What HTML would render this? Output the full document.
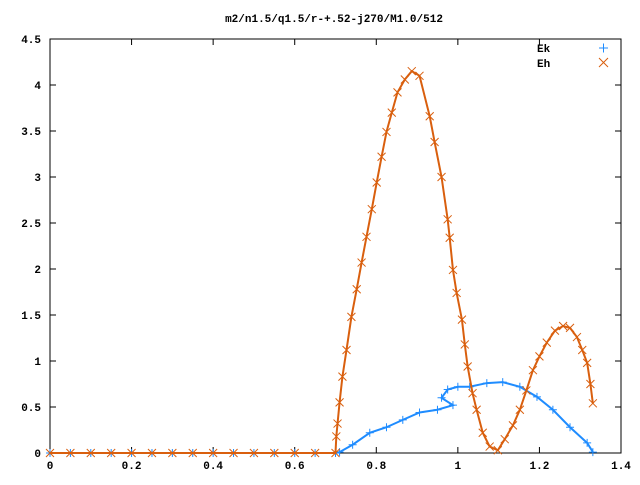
<!DOCTYPE html>
<html><head><meta charset="utf-8"><style>
body{margin:0;background:#fff}
svg text{font-family:"Liberation Mono","DejaVu Sans Mono",monospace;font-size:11px;fill:#000}
</style></head><body>
<svg id="chart" width="640" height="480" xmlns="http://www.w3.org/2000/svg">
<rect width="640" height="480" fill="#fff"/>
<text x="334" y="22" text-anchor="middle" font-weight="bold">m2/n1.5/q1.5/r-+.52-j270/M1.0/512</text>
<g id="axes"></g>
<g id="series"></g>
<g>
<text x="537" y="52" font-weight="bold">Ek</text>
<path d="M599 48h9M603.5 43.5v9" stroke="#1f8cff" stroke-width="1"/>
<text x="537" y="67" font-weight="bold">Eh</text>
<path d="M599 58l9 9M608 58l-9 9" stroke="#d95f0e" stroke-width="1"/>
</g>
</svg>
<script>
const xTicks=[0,0.2,0.4,0.6,0.8,1,1.2,1.4];
const xTickLabels=["0","0.2","0.4","0.6","0.8","1","1.2","1.4"];
const yTicks=[0,0.5,1,1.5,2,2.5,3,3.5,4,4.5];
const yTickLabels=["0","0.5","1","1.5","2","2.5","3","3.5","4","4.5"];
const ehX=[0,0.05,0.1,0.15,0.2,0.25,0.3,0.35,0.4,0.45,0.5,0.55,0.6,0.65,0.7,0.702,0.705,0.71,0.717,0.727,0.739,0.752,0.764,0.776,0.789,0.801,0.813,0.825,0.838,0.852,0.87,0.887,0.906,0.931,0.943,0.96,0.975,0.98,0.988,0.997,1.01,1.017,1.024,1.036,1.046,1.061,1.078,1.098,1.115,1.135,1.152,1.168,1.184,1.2,1.218,1.238,1.258,1.275,1.292,1.305,1.317,1.325,1.331];
const ehY=[0,0,0,0,0,0,0,0,0,0,0,0,0,0,0,0.18,0.32,0.55,0.83,1.12,1.48,1.78,2.07,2.35,2.65,2.94,3.22,3.49,3.7,3.92,4.06,4.15,4.1,3.66,3.38,3.0,2.54,2.34,1.99,1.74,1.45,1.18,0.94,0.65,0.47,0.22,0.07,0.03,0.15,0.3,0.47,0.68,0.9,1.05,1.2,1.33,1.38,1.36,1.26,1.12,0.98,0.75,0.54];
const ekX=[0,0.05,0.1,0.15,0.2,0.25,0.3,0.35,0.4,0.45,0.5,0.55,0.6,0.65,0.7,0.71,0.742,0.784,0.825,0.865,0.906,0.95,0.988,0.96,0.975,1.0,1.029,1.071,1.11,1.152,1.194,1.233,1.275,1.317,1.331];
const ekY=[0,0,0,0,0,0,0,0,0,0,0,0,0,0,0,0.01,0.09,0.22,0.28,0.36,0.44,0.47,0.52,0.6,0.69,0.72,0.72,0.76,0.77,0.72,0.61,0.47,0.28,0.11,0.01];
const L=50,R=621,T=39,B=453;
const sx=v=>L+(v-0)/(1.4-0)*(R-L);
const sy=v=>B-(v-0)/(4.5-0)*(B-T);
const NS="http://www.w3.org/2000/svg";
const axes=document.getElementById('axes'),ser=document.getElementById('series');
function mk(tag,attrs,parent){const e=document.createElementNS(NS,tag);for(const k in attrs)e.setAttribute(k,attrs[k]);parent.appendChild(e);return e;}
const frame=mk('rect',{x:L,y:T,width:R-L,height:B-T,fill:'none',stroke:'#000','stroke-width':1},axes);


xTicks.forEach((v,i)=>{const x=sx(v);
 const t=mk('path',{d:`M${x} ${B}v-6M${x} ${T}v6`,stroke:'#000'},axes);
 
 
 const l=mk('text',{x:x,y:B+16,'text-anchor':'middle','font-weight':'bold'},axes);l.textContent=xTickLabels[i];
 
 });
yTicks.forEach((v,i)=>{const y=sy(v);
 const t=mk('path',{d:`M${L} ${y}h6M${R} ${y}h-6`,stroke:'#000'},axes);
 
 
 const l=mk('text',{x:L-9,y:y+4,'text-anchor':'end','font-weight':'bold'},axes);l.textContent=yTickLabels[i];
 
 });
function series(xs,ys,color,kind,name){
 const g=mk('g',{},ser);
 
 
 const pl=mk('polyline',{points:xs.map((x,i)=>sx(x)+','+sy(ys[i])).join(' '),fill:'none',stroke:color,'stroke-width':2},g);
 
 
 xs.forEach((x,i)=>{const px=sx(x),py=sy(ys[i]);
  const d=kind==='plus'?`M${px-4} ${py}h8M${px} ${py-4}v8`:`M${px-4} ${py-4}l8 8M${px+4} ${py-4}l-8 8`;
  const m=mk('path',{d:d,stroke:color,'stroke-width':1},g);
  
  });
}
series(ekX,ekY,'#1f8cff','plus','ek-series');
series(ehX,ehY,'#d95f0e','cross','eh-series');
</script>
</body></html>
